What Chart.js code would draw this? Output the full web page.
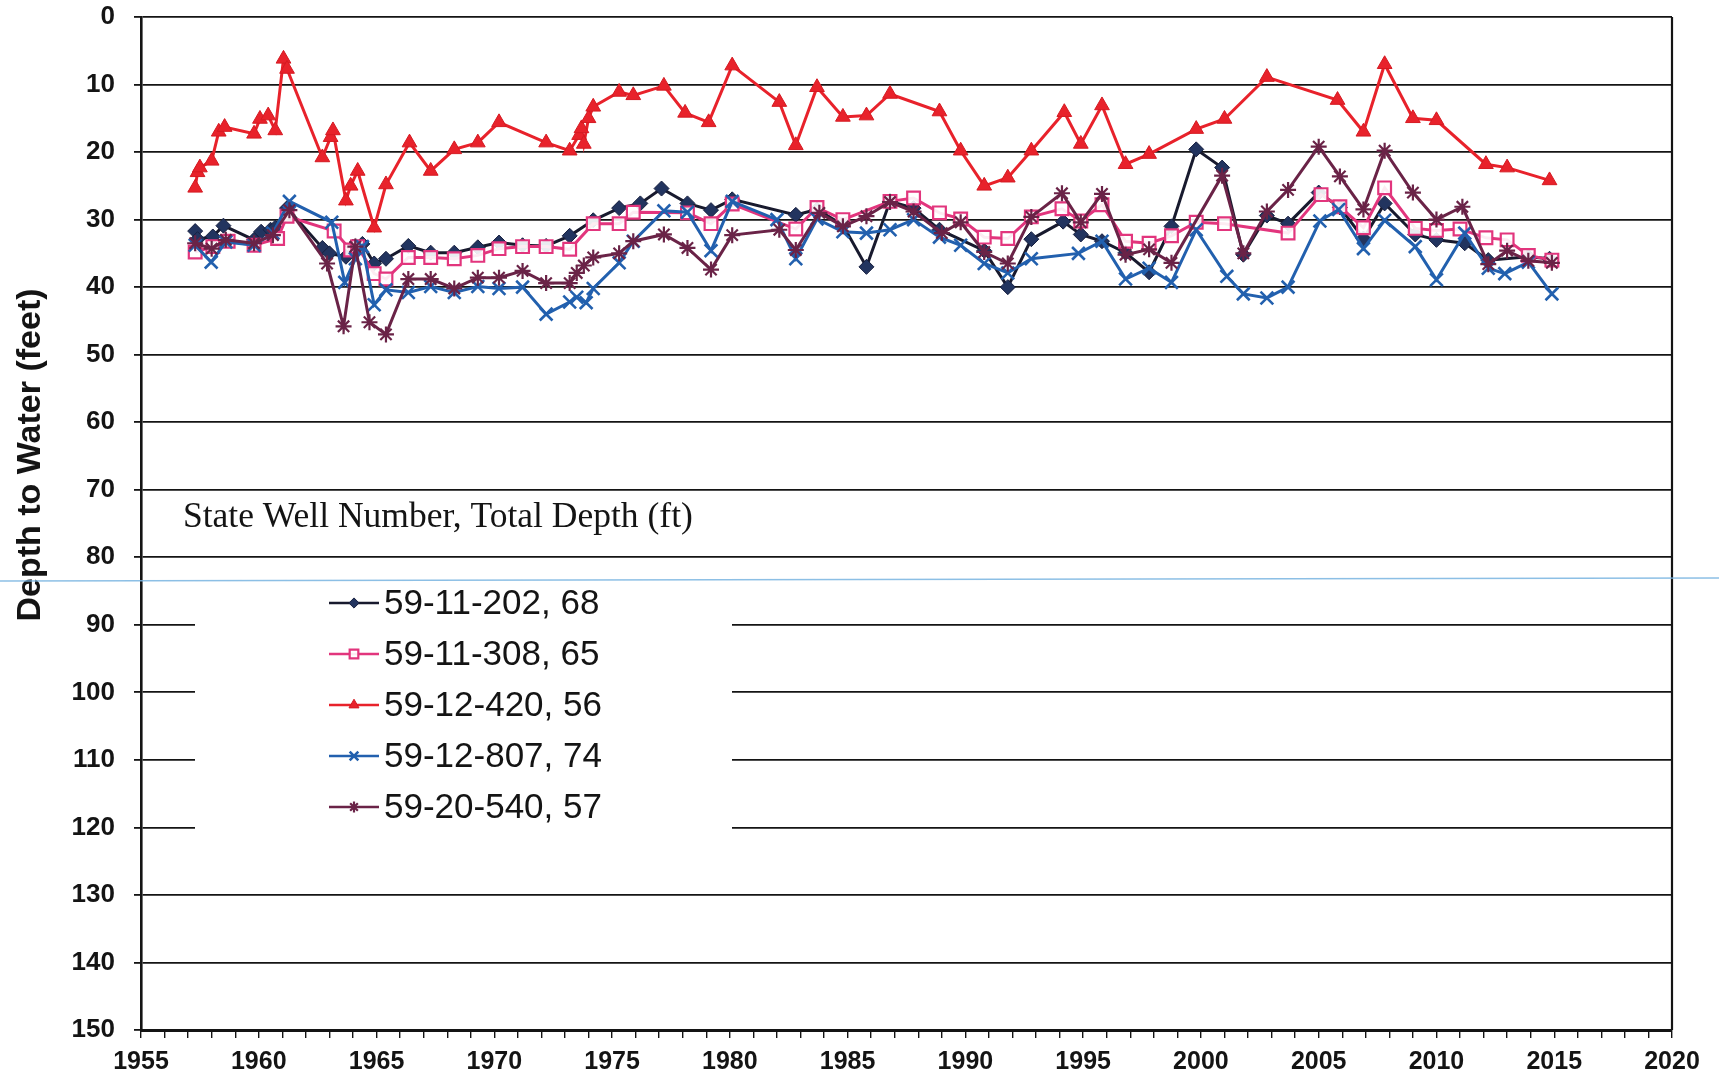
<!DOCTYPE html>
<html>
<head>
<meta charset="utf-8">
<title>Depth to Water</title>
<script src="https://cdn.jsdelivr.net/npm/chart.js@4.4.1/dist/chart.umd.min.js"></script>
<style>
  html, body { margin: 0; padding: 0; background: #fff; }
  #wrap { width: 1719px; height: 1086px; }
</style>
</head>
<body>
<div id="wrap"><canvas id="wellChart" width="1719" height="1086"></canvas></div>
<script>
// 軸ラベル
const yearLabels = [1955, 1960, 1965, 1970, 1975, 1980, 1985, 1990, 1995, 2000, 2005, 2010, 2015, 2020];
const depthLabels = [0, 10, 20, 30, 40, 50, 60, 70, 80, 90, 100, 110, 120, 130, 140, 150];

const keyTitle = 'State Well Number, Total Depth (ft)';
const wellNames = ['59-11-202, 68', '59-11-308, 65', '59-12-420, 56', '59-12-807, 74', '59-20-540, 57'];

// 59-11-202
const w202Years = [1957.3, 1957.4, 1958.05, 1958.5, 1959.8, 1960.1, 1960.5, 1960.7, 1961.2, 1962.7,
  1963.0, 1963.7, 1964.0, 1964.4, 1964.9, 1965.4, 1966.35, 1967.3, 1968.3, 1969.3,
  1970.2, 1971.2, 1972.2, 1973.2, 1974.2, 1975.3, 1976.2, 1977.1, 1978.2, 1979.2,
  1980.1, 1982.8, 1983.7, 1984.8, 1985.8, 1986.8, 1987.8, 1988.9, 1990.8, 1991.8,
  1992.8, 1994.15, 1994.9, 1995.8, 1996.8, 1997.8, 1998.75, 1999.8, 2000.9, 2001.8,
  2002.8, 2003.7, 2005.0, 2005.9, 2006.9, 2007.8, 2009.1, 2010.0, 2011.2, 2012.2,
  2013.9, 2014.8];
const w202Depth = [31.7, 32.9, 32.5, 30.9, 33.0, 31.8, 31.5, 31.2, 28.3, 34.2,
  35.0, 35.5, 34.0, 33.6, 36.5, 35.8, 33.9, 34.9, 34.9, 34.1,
  33.4, 33.8, 33.9, 32.4, 30.1, 28.3, 27.6, 25.4, 27.6, 28.6,
  27.0, 29.3, 28.5, 30.8, 37.0, 27.3, 28.3, 31.5, 34.6, 40.0,
  32.9, 30.3, 32.2, 33.2, 34.9, 37.8, 31.0, 19.6, 22.3, 35.2,
  29.4, 30.6, 26.0, 28.2, 32.8, 27.6, 32.2, 33.0, 33.5, 36.0,
  35.5, 35.8];

// 59-11-308
const w308Years = [1957.3, 1958.05, 1958.7, 1959.8, 1960.8, 1961.2, 1963.2, 1963.9, 1964.2, 1964.9,
  1965.4, 1966.35, 1967.3, 1968.3, 1969.3, 1970.2, 1971.2, 1972.2, 1973.2, 1974.2,
  1975.3, 1975.9, 1978.2, 1979.2, 1980.1, 1982.8, 1983.7, 1984.8, 1986.8, 1987.8,
  1988.9, 1989.8, 1990.8, 1991.8, 1992.8, 1994.1, 1994.9, 1995.8, 1996.8, 1997.8,
  1998.75, 1999.8, 2001.0, 2003.7, 2005.1, 2005.9, 2006.9, 2007.8, 2009.1, 2010.0,
  2011.0, 2012.1, 2013.0, 2013.9, 2014.9];
const w308Depth = [34.8, 34.0, 33.2, 33.8, 32.8, 29.5, 31.7, 34.5, 34.0, 38.0,
  38.8, 35.6, 35.6, 35.8, 35.3, 34.3, 34.0, 34.0, 34.4, 30.6,
  30.6, 28.9, 29.0, 30.6, 27.7, 31.4, 28.2, 30.0, 27.3, 26.8,
  29.0, 29.9, 32.6, 32.8, 29.6, 28.4, 30.2, 27.8, 33.2, 33.5,
  32.4, 30.4, 30.6, 32.0, 26.3, 28.1, 31.2, 25.3, 31.3, 31.6,
  31.4, 32.7, 33.0, 35.3, 36.0];

// 59-12-420
const w420Years = [1957.3, 1957.4, 1957.5, 1958.0, 1958.3, 1958.55, 1959.8, 1960.05, 1960.4, 1960.7,
  1961.05, 1961.2, 1962.7, 1963.05, 1963.15, 1963.7, 1963.9, 1964.2, 1964.9, 1965.4,
  1966.4, 1967.3, 1968.3, 1969.3, 1970.2, 1972.2, 1973.2, 1973.6, 1973.7, 1973.8,
  1974.0, 1974.2, 1975.3, 1975.9, 1977.2, 1978.1, 1979.1, 1980.1, 1982.1, 1982.8,
  1983.7, 1984.8, 1985.8, 1986.8, 1988.9, 1989.8, 1990.8, 1991.8, 1992.8, 1994.2,
  1994.9, 1995.8, 1996.8, 1997.8, 1999.8, 2001.0, 2002.8, 2005.8, 2006.9, 2007.8,
  2009.0, 2010.0, 2012.1, 2013.0, 2014.8];
const w420Depth = [25.3, 23.0, 22.3, 21.3, 17.0, 16.3, 17.3, 15.1, 14.6, 16.8,
  6.2, 7.7, 20.8, 17.8, 16.8, 27.2, 25.0, 22.8, 31.2, 24.8,
  18.6, 22.8, 19.6, 18.6, 15.6, 18.6, 19.8, 17.5, 16.5, 18.8,
  15.0, 13.3, 11.1, 11.6, 10.2, 14.2, 15.6, 7.2, 12.6, 19.0,
  10.4, 14.8, 14.6, 11.4, 14.0, 19.8, 25.0, 23.8, 19.8, 14.1,
  18.8, 13.1, 21.8, 20.3, 16.6, 15.1, 8.9, 12.3, 17.0, 7.0,
  15.0, 15.3, 21.8, 22.3, 24.2];

// 59-12-807
const w807Years = [1957.3, 1957.98, 1958.6, 1959.8, 1960.6, 1961.3, 1963.1, 1963.65, 1964.1, 1964.4,
  1964.9, 1965.4, 1966.35, 1967.3, 1968.3, 1969.3, 1970.2, 1971.2, 1972.2, 1973.2,
  1973.5, 1973.9, 1974.2, 1975.3, 1975.9, 1977.2, 1978.2, 1979.2, 1980.1, 1982.0,
  1982.8, 1983.7, 1984.8, 1985.8, 1986.8, 1987.8, 1988.9, 1989.8, 1990.8, 1991.8,
  1992.8, 1994.8, 1995.8, 1996.8, 1997.8, 1998.75, 1999.8, 2001.1, 2001.8, 2002.8,
  2003.7, 2005.05, 2005.85, 2006.9, 2007.8, 2009.1, 2010.0, 2011.2, 2012.2, 2012.9,
  2013.9, 2014.9];
const w807Depth = [33.8, 36.3, 33.3, 33.8, 32.0, 27.3, 30.4, 39.3, 35.8, 34.0,
  42.6, 40.4, 40.8, 39.9, 40.8, 39.9, 40.2, 40.0, 44.0, 42.2,
  41.5, 42.3, 40.2, 36.4, 33.2, 28.7, 28.9, 34.6, 27.3, 30.0,
  35.8, 29.9, 31.8, 32.0, 31.5, 30.0, 32.6, 33.8, 36.5, 37.9,
  35.8, 35.0, 33.2, 38.8, 37.2, 39.3, 31.5, 38.4, 41.0, 41.6,
  40.0, 30.2, 28.5, 34.3, 30.1, 34.0, 38.9, 32.0, 37.2, 38.0,
  36.3, 41.0];

// 59-20-540
const w540Years = [1957.3, 1958.0, 1958.6, 1959.8, 1960.6, 1961.3, 1962.9, 1963.6, 1964.1, 1964.7,
  1965.4, 1966.35, 1967.3, 1968.3, 1969.3, 1970.2, 1971.2, 1972.2, 1973.2, 1973.5,
  1973.8, 1974.2, 1975.3, 1975.9, 1977.2, 1978.2, 1979.2, 1980.1, 1982.1, 1982.8,
  1983.8, 1984.8, 1985.8, 1986.8, 1987.8, 1989.0, 1989.8, 1990.8, 1991.8, 1992.8,
  1994.1, 1994.9, 1995.8, 1996.8, 1997.8, 1998.75, 2000.9, 2001.8, 2002.8, 2003.7,
  2005.0, 2005.9, 2006.9, 2007.8, 2009.0, 2010.0, 2011.1, 2012.2, 2013.0, 2013.9,
  2014.9];
const w540Depth = [33.5, 34.3, 33.0, 33.5, 32.3, 28.6, 36.5, 45.8, 34.0, 45.2,
  47.0, 38.8, 38.8, 40.2, 38.6, 38.6, 37.6, 39.4, 39.4, 37.9,
  36.8, 35.6, 35.0, 33.2, 32.2, 34.2, 37.4, 32.3, 31.5, 34.5,
  29.0, 31.0, 29.5, 27.4, 28.8, 32.0, 30.4, 34.8, 36.5, 29.6,
  26.1, 30.4, 26.2, 35.2, 34.4, 36.4, 23.5, 35.0, 28.8, 25.6,
  19.2, 23.6, 28.5, 19.8, 26.0, 30.0, 28.1, 36.6, 34.6, 36.1,
  36.4];

// ヘルパー
const pairUp = (xs, ys) => xs.map((x, i) => ({ x: x, y: ys[i] }));

const SANS = '"Liberation Sans", Arial, sans-serif';
const SERIF = '"Liberation Serif", "Times New Roman", serif';
const INK = '#141414';

function wellSet(i, years, depth, line, marker) {
    return Object.assign({
        label: wellNames[i],
        data: pairUp(years, depth),
        borderColor: line,
        borderWidth: 3,
        tension: 0,
        order: 5 - i
    }, marker);
}

const datasets = [
    wellSet(0, w202Years, w202Depth, '#181a2e', { pointStyle: 'rectRot', pointRadius: 7.5, pointBackgroundColor: '#22345f', pointBorderColor: '#182040', pointBorderWidth: 1 }),
    wellSet(1, w308Years, w308Depth, '#e2357d', { pointStyle: 'rect', pointRadius: 9, pointBackgroundColor: 'rgba(255,255,255,0.9)', pointBorderColor: '#e2357d', pointBorderWidth: 2.2 }),
    wellSet(2, w420Years, w420Depth, '#e8222b', { pointStyle: 'triangle', pointRadius: 8.5, pointBackgroundColor: '#e8222b', pointBorderColor: '#d51a22', pointBorderWidth: 1 }),
    wellSet(3, w807Years, w807Depth, '#2260ae', { pointStyle: 'crossRot', pointRadius: 9, pointBorderColor: '#2260ae', pointBorderWidth: 2.6 }),
    wellSet(4, w540Years, w540Depth, '#6a2347', { pointStyle: 'star', pointRadius: 8, pointBorderColor: '#6a2347', pointBorderWidth: 2.2 })
];

// 背景
const paper = {
    id: 'paper',
    beforeDraw(chart) {
        const ctx = chart.ctx;
        ctx.save();
        ctx.fillStyle = '#ffffff';
        ctx.fillRect(0, 0, chart.width, chart.height);
        ctx.restore();
    }
};

// 枠線・凡例・軸タイトル
const decorations = {
    id: 'decorations',
    afterDraw(chart) {
        const ctx = chart.ctx;
        const a = chart.chartArea;
        ctx.save();

        // 右端の枠
        ctx.strokeStyle = INK;
        ctx.lineWidth = 2.2;
        ctx.beginPath();
        ctx.moveTo(a.right, a.top);
        ctx.lineTo(a.right, a.bottom);
        ctx.stroke();

        // 凡例の白い箱
        ctx.fillStyle = '#ffffff';
        ctx.fillRect(195, 588, 537, 262);

        ctx.fillStyle = INK;
        ctx.textBaseline = 'middle';
        ctx.textAlign = 'left';
        ctx.font = '35.5px ' + SERIF;
        ctx.fillText(keyTitle, 183, 518);

        ctx.font = '35px ' + SANS;
        chart.data.datasets.forEach((ds, i) => {
            const y = 603 + i * 51;
            ctx.strokeStyle = ds.borderColor;
            ctx.lineWidth = 2.6;
            ctx.beginPath();
            ctx.moveTo(329, y);
            ctx.lineTo(379, y);
            ctx.stroke();
            ctx.fillStyle = ds.pointBackgroundColor || ds.pointBorderColor;
            ctx.strokeStyle = ds.pointBorderColor;
            ctx.lineWidth = ds.pointBorderWidth;
            Chart.helpers.drawPoint(ctx, {
                pointStyle: ds.pointStyle,
                radius: ds.pointRadius * 0.68,
                rotation: 0,
                borderWidth: ds.pointBorderWidth
            }, 354, y);
            ctx.fillStyle = INK;
            ctx.fillText(ds.label, 384, y + 1);
        });

        // Y軸タイトル
        ctx.translate(31, 455);
        ctx.rotate(-Math.PI / 2);
        ctx.textAlign = 'center';
        ctx.font = 'bold 34px ' + SANS;
        ctx.fillStyle = INK;
        ctx.fillText('Depth to Water (feet)', 0, 0);
        ctx.setTransform(1, 0, 0, 1, 0, 0);

        // スキャンの薄い青線
        ctx.strokeStyle = 'rgba(120,180,225,0.85)';
        ctx.lineWidth = 1.5;
        ctx.beginPath();
        ctx.moveTo(0, 581);
        ctx.lineTo(chart.width, 578);
        ctx.stroke();

        ctx.restore();
    }
};

window.wellChart = new Chart(document.getElementById('wellChart').getContext('2d'), {
    type: 'line',
    data: { datasets: datasets },
    options: {
        responsive: false,
        animation: false,
        devicePixelRatio: 1,
        layout: { padding: { top: 17, right: 47, left: 0, bottom: 0 } },
        plugins: {
            legend: { display: false },
            tooltip: { enabled: false }
        },
        scales: {
            x: {
                type: 'linear',
                min: 1955,
                max: 2020,
                afterFit: (s) => { s.height = 56; },
                afterBuildTicks: (s) => {
                    const t = [];
                    for (let yr = 1955; yr <= 2020; yr++) t.push({ value: yr });
                    s.ticks = t;
                },
                ticks: {
                    autoSkip: false,
                    maxRotation: 0,
                    padding: 9,
                    color: INK,
                    font: { family: SANS, weight: 'bold', size: 25 },
                    callback: (v) => yearLabels.includes(v) ? String(v) : ''
                },
                grid: { drawOnChartArea: false, drawTicks: true, tickLength: 8, color: INK, lineWidth: 1.4 },
                border: { color: INK, width: 3 }
            },
            y: {
                reverse: true,
                min: 0,
                max: 150,
                afterFit: (s) => { s.width = 141; s.paddingTop = 0; s.paddingBottom = 0; },
                afterBuildTicks: (s) => { s.ticks = depthLabels.map((v) => ({ value: v })); },
                ticks: {
                    padding: 19,
                    color: INK,
                    font: { family: SANS, weight: 'bold', size: 26 },
                    callback: (v) => String(v)
                },
                grid: { color: INK, lineWidth: 1.8, tickLength: 7 },
                border: { color: INK, width: 2.6 }
            }
        }
    },
    plugins: [paper, decorations]
});
</script>
</body>
</html>
